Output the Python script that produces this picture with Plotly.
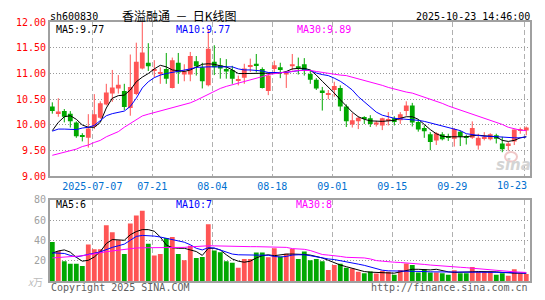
import plotly.graph_objects as go

# ---------------- data ----------------
opens = [10.36, 10.23, 10.27, 10.22, 10.05, 9.78, 9.75, 9.97, 10.14, 10.40,
         10.61, 10.71, 10.66, 10.33, 10.60, 11.10, 11.21, 11.05, 11.00, 11.09,
         10.72, 11.21, 10.98, 10.98, 11.24, 11.12, 10.77, 11.23, 11.16, 11.09,
         11.07, 10.86, 10.92, 11.13, 11.19, 11.09, 10.66, 11.09, 11.12, 10.98,
         11.14, 11.14, 11.18, 10.99, 10.88, 10.67, 10.59, 10.68, 10.72, 10.36,
         10.01, 10.07, 10.13, 10.13, 10.01, 9.99, 10.08, 10.13, 10.09, 10.27,
         10.38, 10.06, 9.94, 9.82, 9.70, 9.82, 9.76, 9.73, 9.87, 9.76,
         9.75, 9.60, 9.74, 9.72, 9.80, 9.64, 9.59, 9.68, 9.89, 9.89]
highs = [10.44, 10.52, 10.31, 10.27, 10.07, 9.84, 10.21, 10.60, 10.46, 10.80,
         11.07, 10.97, 10.80, 11.37, 11.60, 12.00, 11.59, 11.26, 11.12, 11.40,
         11.31, 11.40, 11.18, 11.42, 11.34, 11.21, 11.85, 11.55, 11.30, 11.28,
         11.15, 10.96, 11.19, 11.29, 11.38, 11.12, 11.02, 11.25, 11.21, 11.04,
         11.38, 11.31, 11.30, 11.06, 10.91, 10.74, 10.68, 10.84, 10.77, 10.40,
         10.23, 10.17, 10.17, 10.19, 10.08, 10.14, 10.25, 10.17, 10.25, 10.46,
         10.43, 10.11, 9.99, 9.86, 9.86, 9.86, 9.83, 9.94, 9.89, 9.81,
         10.07, 9.83, 9.86, 9.84, 9.83, 9.77, 9.67, 9.91, 9.95, 9.97]
lows = [10.22, 10.16, 10.05, 9.95, 9.75, 9.68, 9.56, 9.92, 10.12, 10.38,
        10.45, 10.61, 10.29, 10.18, 10.58, 11.08, 11.05, 10.93, 10.80, 10.80,
        10.71, 10.80, 10.85, 10.85, 10.96, 10.71, 10.75, 10.97, 10.90, 10.90,
        10.80, 10.77, 10.80, 11.03, 11.02, 10.71, 10.58, 11.00, 10.91, 10.72,
        11.06, 10.98, 10.96, 10.80, 10.68, 10.28, 10.50, 10.55, 10.27, 9.96,
        9.95, 9.92, 10.02, 9.96, 9.97, 9.90, 9.99, 9.99, 10.02, 10.18,
        9.97, 9.87, 9.75, 9.51, 9.61, 9.70, 9.69, 9.58, 9.59, 9.62,
        9.73, 9.52, 9.70, 9.70, 9.64, 9.47, 9.50, 9.61, 9.83, 9.80]
closes = [10.27, 10.26, 10.16, 10.07, 9.78, 9.77, 9.93, 10.21, 10.42, 10.63,
          10.73, 10.78, 10.35, 10.74, 11.23, 11.41, 11.14, 11.06, 11.01, 10.90,
          11.26, 11.02, 11.04, 11.34, 11.14, 10.85, 11.48, 11.12, 11.10, 11.04,
          10.90, 10.88, 11.10, 11.15, 11.16, 10.72, 10.96, 11.16, 11.07, 11.02,
          11.18, 11.10, 11.07, 10.88, 10.71, 10.62, 10.61, 10.76, 10.36, 10.07,
          10.09, 10.14, 10.12, 10.02, 10.05, 10.13, 10.09, 10.06, 10.21, 10.38,
          10.05, 9.91, 9.88, 9.67, 9.84, 9.72, 9.75, 9.92, 9.77, 9.75,
          9.94, 9.75, 9.76, 9.82, 9.73, 9.53, 9.64, 9.91, 9.92, 9.95]
volumes = [38.7, 29.8, 19.7, 17.1, 17.1, 14.9, 36.2, 31.4, 31.4, 55.2,
           48.3, 40.3, 26.7, 56.8, 64.8, 69.5, 36.8, 25.4, 26.7, 42.5,
           43.5, 26.7, 20.6, 34.9, 22.9, 23.8, 56.2, 30.2, 28.6, 19.7,
           18.1, 13.3, 21.9, 21.9, 28.3, 28.3, 23.5, 32.4, 24.4, 27.0,
           31.7, 21.9, 29.2, 20.6, 21.9, 19.7, 11.1, 15.9, 17.1, 13.3,
           12.4, 9.2, 7.9, 9.5, 7.6, 10.2, 9.2, 6.3, 11.1, 17.5,
           15.9, 8.6, 11.7, 8.6, 8.6, 7.9, 6.3, 10.8, 7.9, 7.9,
           14.0, 9.2, 9.2, 9.2, 6.3, 7.9, 5.4, 11.7, 7.9, 7.0]
ma5 = [9.89, 10.05, 10.16, 10.18, 10.11, 10.00, 9.955, 9.955, 10.05, 10.33,
       10.52, 10.57, 10.58, 10.68, 10.84, 10.93, 11.00, 11.09, 11.16, 11.13,
       11.07, 11.05, 11.04, 11.07, 11.12, 11.18, 11.19, 11.18, 11.15, 11.13,
       11.07, 11.00, 11.00, 11.00, 11.00, 11.01, 11.00, 11.00, 11.01, 11.04,
       11.09, 11.10, 11.10, 11.07, 10.97, 10.85, 10.74, 10.62, 10.49, 10.37,
       10.25, 10.16, 10.11, 10.08, 10.07, 10.07, 10.08, 10.09, 10.13, 10.16,
       10.16, 10.11, 10.01, 9.91, 9.83, 9.78, 9.77, 9.77, 9.77, 9.77,
       9.79, 9.80, 9.79, 9.78, 9.77, 9.70, 9.68, 9.70, 9.75, 9.77]
ma10 = [9.88, 9.92, 9.92, 9.91, 9.91, 9.94, 9.955, 9.99, 10.09, 10.18,
        10.22, 10.24, 10.27, 10.36, 10.52, 10.72, 10.84, 10.92, 10.97, 11.00,
        11.02, 11.04, 11.06, 11.09, 11.12, 11.13, 11.13, 11.13, 11.13, 11.13,
        11.13, 11.09, 11.07, 11.07, 11.06, 11.05, 11.02, 11.02, 11.01, 11.02,
        11.04, 11.06, 11.07, 11.06, 11.01, 10.98, 10.96, 10.91, 10.85, 10.77,
        10.68, 10.55, 10.45, 10.35, 10.25, 10.19, 10.16, 10.13, 10.12, 10.11,
        10.11, 10.09, 10.07, 10.04, 10.01, 9.97, 9.94, 9.92, 9.89, 9.83,
        9.81, 9.79, 9.78, 9.78, 9.77, 9.77, 9.76, 9.75, 9.75, 9.77]
ma30 = [9.41, 9.44, 9.47, 9.50, 9.53, 9.58, 9.61, 9.66, 9.70, 9.77,
        9.82, 9.87, 9.955, 10.03, 10.11, 10.175, 10.21, 10.24, 10.27, 10.30,
        10.33, 10.36, 10.40, 10.43, 10.48, 10.54, 10.60, 10.66, 10.71, 10.75,
        10.78, 10.82, 10.84, 10.87, 10.90, 10.94, 10.98, 11.00, 11.01, 11.03,
        11.04, 11.06, 11.06, 11.06, 11.04, 11.02, 11.00, 10.98, 10.97, 10.96,
        10.93, 10.90, 10.87, 10.84, 10.80, 10.77, 10.73, 10.70, 10.66, 10.64,
        10.62, 10.58, 10.55, 10.51, 10.47, 10.42, 10.37, 10.33, 10.29, 10.25,
        10.21, 10.17, 10.13, 10.09, 10.05, 10.01, 9.955, 9.92, 9.90, 9.89]
vma5 = [27.6, 29.8, 30.8, 28.6, 23.5, 19.7, 20.6, 23.8, 29.2, 37.1,
        41.0, 40.3, 40.3, 45.7, 48.9, 50.8, 50.8, 49.2, 43.5, 35.6,
        33.0, 32.4, 32.4, 30.8, 29.2, 25.4, 32.4, 32.4, 30.8, 26.0,
        21.9, 19.7, 18.7, 19.7, 22.9, 25.1, 26.0, 25.1, 26.0, 26.7,
        26.7, 26.7, 26.3, 25.7, 24.4, 22.9, 20.6, 18.1, 15.9, 14.3,
        12.7, 11.1, 9.5, 8.9, 8.6, 8.3, 7.9, 7.9, 9.2, 10.5,
        11.7, 11.7, 11.4, 11.1, 11.7, 10.2, 9.2, 8.6, 8.6, 8.6,
        9.2, 9.5, 9.5, 9.5, 9.2, 8.6, 7.9, 7.9, 7.9, 7.9]
vma10 = [27.9, 27.9, 27.3, 25.4, 23.8, 25.1, 26.0, 27.6, 28.9, 31.4,
         33.3, 34.9, 36.5, 40.3, 44.1, 45.1, 45.1, 44.4, 43.5, 42.2,
         41.3, 39.7, 38.4, 35.9, 32.4, 30.8, 33.0, 32.7, 30.8, 28.6,
         26.7, 26.0, 26.0, 26.0, 26.0, 26.0, 25.5, 24.4, 23.8, 24.4,
         25.7, 26.0, 26.0, 25.1, 23.8, 22.9, 21.9, 21.3, 20.0, 18.7,
         17.8, 16.8, 15.6, 14.0, 11.7, 10.8, 10.2, 10.2, 10.2, 10.2,
         9.8, 9.5, 9.5, 9.2, 9.2, 9.2, 9.2, 9.2, 9.2, 9.2,
         9.2, 9.2, 9.2, 9.2, 9.2, 8.9, 8.6, 8.3, 7.9, 7.9]
vma30 = [22.9, 23.2, 23.5, 23.8, 24.1, 25.0, 26.0, 27.2, 28.3, 29.0,
         29.8, 30.6, 31.4, 32.0, 32.7, 32.9, 33.0, 32.9, 32.7, 32.7,
         32.7, 33.0, 33.3, 33.8, 34.3, 34.6, 34.9, 34.8, 34.6, 34.3,
         34.0, 34.0, 34.0, 34.0, 34.0, 34.0, 34.0, 34.0, 34.0, 33.3,
         32.1, 31.7, 31.4, 30.2, 28.3, 26.3, 25.7, 25.4, 24.4, 23.5,
         23.5, 23.2, 22.9, 21.9, 20.3, 19.7, 19.0, 18.7, 18.4, 18.1,
         17.5, 16.8, 16.5, 15.9, 15.6, 14.9, 14.6, 14.3, 13.7, 13.3,
         12.7, 12.4, 11.7, 11.1, 10.8, 10.2, 9.8, 9.2, 8.9, 8.6]
tick_idx = [7, 17, 27, 37, 47, 57, 67, 79]
tick_text = ['2025-07-07', '07-21', '08-04', '08-18', '09-01', '09-15', '09-29', '10-23']
price_ticks = [9.0, 9.5, 10.0, 10.5, 11.0, 11.5, 12.0]
vol_ticks = [20, 40, 60, 80]

# ---------------- styling ----------------
W, H = 545, 300
RED, GREEN = '#ff5555', '#00a800'
MONO = 'DejaVu Sans Mono'
CJK = 'Noto Sans CJK SC'
GRID = '#b0b0b0'
BORDER = '#a0a0a0'

n = len(closes)
xs = list(range(n))
up = [c >= o for o, c in zip(opens, closes)]
colors = [RED if u else GREEN for u in up]

fig = go.Figure()

# wicks
for flag, col in ((True, RED), (False, GREEN)):
    wx, wy = [], []
    for i in range(n):
        if up[i] == flag:
            wx += [i, i, None]
            wy += [lows[i], highs[i], None]
    fig.add_trace(go.Scatter(x=wx, y=wy, mode='lines', line=dict(color=col, width=1),
                             xaxis='x', yaxis='y', hoverinfo='skip', showlegend=False))

# bodies
fig.add_trace(go.Bar(x=xs, y=[max(abs(c - o), 0.02) for o, c in zip(opens, closes)],
                     base=[min(o, c) for o, c in zip(opens, closes)],
                     width=0.8, marker=dict(color=colors, line=dict(width=0)),
                     xaxis='x', yaxis='y', showlegend=False))

for arr, col in ((ma5, '#000000'), (ma10, '#0000ff'), (ma30, '#ff00ff')):
    fig.add_trace(go.Scatter(x=xs, y=arr, mode='lines', line=dict(color=col, width=1),
                             xaxis='x', yaxis='y', showlegend=False))

# volume
fig.add_trace(go.Bar(x=xs, y=volumes, width=0.8, marker=dict(color=colors, line=dict(width=0)),
                     xaxis='x2', yaxis='y2', showlegend=False))
for arr, col in ((vma5, '#000000'), (vma10, '#0000ff'), (vma30, '#ff00ff')):
    fig.add_trace(go.Scatter(x=xs, y=arr, mode='lines', line=dict(color=col, width=1),
                             xaxis='x2', yaxis='y2', showlegend=False))

xdom = [50 / W, 530 / W]
xrange_ = [-0.383, 79.62]
tickpos = [t - 0.33 for t in tick_idx]

common_x = dict(domain=xdom, range=xrange_, showgrid=True, gridcolor=GRID, gridwidth=1,
                griddash='5px,3px', zeroline=False, showline=True, mirror=True,
                linecolor=BORDER, linewidth=2, ticks='', tickvals=tickpos)
common_y = dict(showgrid=True, gridcolor='#999999', gridwidth=1, griddash='1px,2px',
                zeroline=False, showline=True, mirror=True, linecolor=BORDER,
                linewidth=2, ticks='')

fig.update_layout(
    width=W, height=H, margin=dict(l=0, r=0, t=0, b=0),
    paper_bgcolor='white', plot_bgcolor='white', barmode='overlay',
    showlegend=False,
    xaxis=dict(**common_x, anchor='y',
               ticktext=tick_text[:-1] + [''],
               tickfont=dict(family=MONO, size=10, color='#0070d0')),
    yaxis=dict(**common_y, domain=[1 - 177.3 / H, 1 - 17.7 / H], range=[9, 12],
               tickvals=price_ticks, ticktext=['%.2f' % v for v in price_ticks],
               tickfont=dict(family=MONO, size=10, color='#ff0000')),
    xaxis2=dict(**common_x, anchor='y2', showticklabels=False),
    yaxis2=dict(**common_y, domain=[1 - 285.7 / H, 1 - 201.7 / H], range=[0, 80],
                tickvals=vol_ticks, ticktext=[str(v) for v in vol_ticks],
                tickfont=dict(family=MONO, size=10, color='#a0a0a0')),
)


def ann(text, px, py, color='#000000', size=10, xanchor='left', family=MONO):
    return dict(text=text, x=px / W, y=1 - py / H, xref='paper', yref='paper',
                xanchor=xanchor, yanchor='middle', showarrow=False,
                font=dict(family=family, size=size, color=color))


anns = [
    ann('sh600830', 48, 11.5),
    ann('香溢融通\u00a0\u00a0－\u00a0\u00a0日K线图', 120, 10.5, size=12, family=CJK),
    ann('2025-10-23 14:46:00', 532, 12, xanchor='right'),
    ann('MA5:9.77', 54, 25),
    ann('MA10:9.77', 174, 25, color='#0000ff'),
    ann('MA30:9.89', 295, 25, color='#ff00ff'),
    ann('MA5:6', 54, 206),
    ann('MA10:7', 174, 206, color='#0000ff'),
    ann('MA30:8', 294, 206, color='#ff00ff'),
    ann(tick_text[-1], 512, 187, color='#0070d0', xanchor='center'),
    ann('<i>x</i>万', 45, 286, color='#bbbbbb', xanchor='right', family=CJK),
    ann('Copyright 2025 SINA.COM', 49, 292.5, color='#606060'),
    ann('http://finance.sina.com.cn', 530, 292.5, color='#606060', xanchor='right'),
    ann('<b><i>sina</i></b>', 513, 166, color='#d4d4d4', size=15, xanchor='center',
        family='DejaVu Sans'),
]
fig.update_layout(annotations=anns)
fig.add_shape(type='circle', xref='paper', yref='paper',
              x0=505 / W, x1=517 / W, y0=1 - 162 / H, y1=1 - 152 / H,
              line=dict(color='#f0c8c8', width=2))

fig.write_html('out.html')
